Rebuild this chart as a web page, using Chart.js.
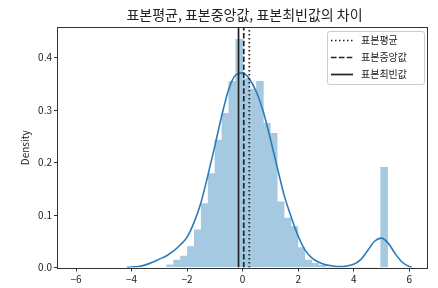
<!DOCTYPE html>
<html>
<head>
<meta charset="utf-8">
<script src="https://cdn.jsdelivr.net/npm/chart.js@4.4.0/dist/chart.umd.min.js"></script>
<style>
  html, body { margin: 0; padding: 0; background: #fff; }
</style>
</head>
<body>
<canvas id="chart" width="438" height="288"></canvas>
<script>
// histogram bins (centers) and densities
const binCenters = [-2.610, -2.361, -2.113, -1.864, -1.616, -1.367, -1.118, -0.870, -0.621, -0.373,
  -0.124, 0.125, 0.373, 0.622, 0.870, 1.119, 1.368, 1.616, 1.865, 2.113,
  2.362, 2.611, 2.859, 3.108, 3.356, 3.605, 3.854, 4.102, 4.351, 4.599,
  4.848, 5.097];
const binHeights = [0.005, 0.014, 0.022, 0.040, 0.072, 0.122, 0.179, 0.243, 0.294, 0.355,
  0.435, 0.360, 0.340, 0.355, 0.275, 0.256, 0.125, 0.094, 0.078, 0.038,
  0.014, 0.008, 0.004, 0, 0, 0, 0, 0, 0, 0,
  0, 0.191];

// KDE curve
const kdeX = [-4.17, -4.0, -3.75, -3.5, -3.25, -3.0, -2.75, -2.5, -2.25, -2.0,
  -1.75, -1.5, -1.25, -1.0, -0.75, -0.5, -0.25, 0.0, 0.25, 0.5,
  0.75, 1.0, 1.25, 1.5, 1.75, 2.0, 2.25, 2.5, 2.75, 3.0,
  3.25, 3.5, 3.75, 4.0, 4.25, 4.5, 4.75, 5.0, 5.25, 5.5,
  5.75, 6.0, 6.09];
const kdeY = [0.000, 0.001, 0.002, 0.005, 0.010, 0.016, 0.022, 0.031, 0.043, 0.058,
  0.086, 0.124, 0.176, 0.232, 0.290, 0.340, 0.367, 0.371, 0.359, 0.334,
  0.296, 0.245, 0.190, 0.137, 0.096, 0.060, 0.033, 0.018, 0.010, 0.005,
  0.003, 0.002, 0.003, 0.006, 0.015, 0.032, 0.050, 0.056, 0.046, 0.026,
  0.010, 0.002, 0.001];

const meanVal = 0.24;
const medianVal = 0.04;
const modeVal = -0.148;

const xTicks = [-6, -4, -2, 0, 2, 4, 6];
const yTicks = [0, 0.1, 0.2, 0.3, 0.4];
const legendLabels = ['표본평균', '표본중앙값', '표본최빈값'];
const titleText = '표본평균, 표본중앙값, 표본최빈값의 차이';

const FONT = "'Noto Sans CJK KR', 'DejaVu Sans', sans-serif";
const Y_MAX = 0.4566;
const lineColor = '#222';
const dashes = [[1.5, 2.5], [5.5, 2.4], []];

function vline(v, dash, order) {
  return {
    type: 'line',
    data: [{ x: v, y: 0 }, { x: v, y: Y_MAX }],
    borderColor: lineColor,
    borderWidth: 1.7,
    borderDash: dash,
    pointRadius: 0,
    fill: false,
    order: order
  };
}

const decor = {
  id: 'decor',
  afterDraw(chart) {
    const ctx = chart.ctx;
    const a = chart.chartArea;
    ctx.save();
    // frame
    ctx.strokeStyle = '#333';
    ctx.lineWidth = 1;
    ctx.strokeRect(Math.round(a.left) - 0.5, Math.round(a.top) - 0.5,
      Math.round(a.right - a.left) + 1, Math.round(a.bottom - a.top) + 1);

    // title
    ctx.fillStyle = '#222';
    ctx.font = '14px ' + FONT;
    ctx.textAlign = 'center';
    ctx.textBaseline = 'middle';
    ctx.fillText(titleText, (a.left + a.right) / 2 + 2, 15);

    // legend
    const w = 97, h = 53;
    const x = a.right - 3 - w, y = a.top + 3;
    ctx.fillStyle = 'rgba(255,255,255,0.8)';
    ctx.strokeStyle = '#cccccc';
    ctx.lineWidth = 1;
    ctx.beginPath();
    ctx.roundRect(x + 0.5, y + 0.5, w, h, 2.5);
    ctx.fill();
    ctx.stroke();
    ctx.font = '10px ' + FONT;
    ctx.textAlign = 'left';
    legendLabels.forEach((lab, i) => {
      const ry = y + 9.5 + i * 17;
      ctx.strokeStyle = lineColor;
      ctx.lineWidth = 1.7;
      ctx.setLineDash(dashes[i]);
      ctx.beginPath();
      ctx.moveTo(x + 4, ry);
      ctx.lineTo(x + 26, ry);
      ctx.stroke();
      ctx.setLineDash([]);
      ctx.fillStyle = '#222';
      ctx.fillText(lab, x + 34, ry);
    });
    ctx.restore();
  }
};

new Chart(document.getElementById('chart'), {
  type: 'bar',
  data: {
    datasets: [
      {
        type: 'bar',
        data: binCenters.map((c, i) => ({ x: c, y: binHeights[i] })),
        backgroundColor: '#a5c9e1',
        borderWidth: 0,
        barPercentage: 1,
        categoryPercentage: 1,
        order: 5
      },
      {
        type: 'line',
        data: kdeX.map((v, i) => ({ x: v, y: kdeY[i] })),
        borderColor: '#2b7bba',
        borderWidth: 1.6,
        pointRadius: 0,
        fill: false,
        cubicInterpolationMode: 'monotone',
        order: 4
      },
      vline(meanVal, dashes[0], 3),
      vline(medianVal, dashes[1], 2),
      vline(modeVal, dashes[2], 1)
    ]
  },
  options: {
    responsive: false,
    animation: false,
    devicePixelRatio: 1,
    layout: { padding: { left: 0, right: 11, top: 28, bottom: 0 } },
    plugins: {
      legend: { display: false },
      tooltip: { enabled: false },
      title: { display: false }
    },
    scales: {
      x: {
        type: 'linear',
        min: -6.65,
        max: 6.64,
        offset: false,
        afterBuildTicks: s => { s.ticks = xTicks.map(v => ({ value: v })); },
        afterFit: s => { s.height = 20.5; },
        ticks: {
          autoSkip: false,
          maxRotation: 0,
          padding: 2,
          color: '#222',
          font: { family: FONT, size: 10 },
          callback: v => (v < 0 ? '\u2212' + Math.abs(v) : String(v))
        },
        grid: { offset: false, drawOnChartArea: false, drawTicks: true, tickLength: 4, color: '#333' },
        border: { display: false }
      },
      y: {
        min: 0,
        max: Y_MAX,
        afterBuildTicks: s => { s.ticks = yTicks.map(v => ({ value: v })); },
        afterFit: s => { s.width = 58; },
        ticks: {
          padding: 2,
          color: '#222',
          font: { family: FONT, size: 10 },
          callback: v => v.toFixed(1)
        },
        grid: { drawOnChartArea: false, drawTicks: true, tickLength: 4, color: '#333' },
        border: { display: false },
        title: {
          display: true,
          text: 'Density',
          color: '#222',
          font: { family: FONT, size: 10 },
          padding: { top: 19, bottom: 0 }
        }
      }
    }
  },
  plugins: [decor]
});
</script>
</body>
</html>
